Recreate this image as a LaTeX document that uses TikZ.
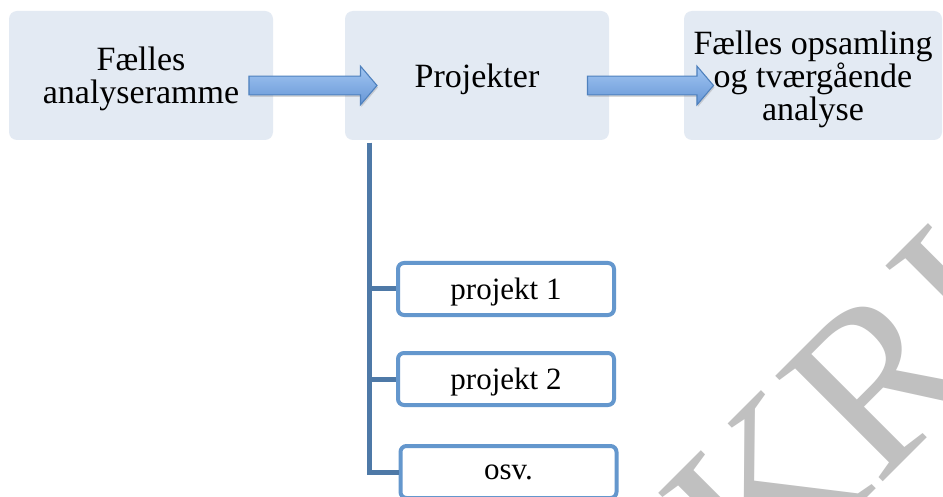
\documentclass[tikz,border=0pt]{standalone}
\usepackage{fontspec}
\setmainfont{Liberation Serif}
\usetikzlibrary{shapes.arrows,shadows,calc}
\definecolor{boxfill}{RGB}{227,234,243}
\definecolor{trunkblue}{RGB}{78,121,167}
\definecolor{childblue}{RGB}{100,151,205}
\definecolor{arrowline}{RGB}{79,129,189}
\definecolor{arrowtop}{RGB}{162,198,242}
\definecolor{arrowbot}{RGB}{102,150,214}
\definecolor{wmgray}{RGB}{192,192,192}
\tikzset{
  topbox/.style={rectangle, rounded corners=8pt, fill=boxfill, minimum width=264pt,
    minimum height=129pt, align=center, inner sep=0pt, text depth=0pt,
    font=\fontsize{34}{33}\selectfont},
  childbox/.style={rectangle, draw=childblue, line width=4pt, rounded corners=6pt,
    fill=white, minimum width=216pt, minimum height=52pt, inner sep=0pt,
    text depth=0pt, font=\fontsize{31}{33}\selectfont},
  blockarrow/.style={single arrow, draw=arrowline, line width=1.1pt,
    top color=arrowtop, bottom color=arrowbot,
    inner xsep=0pt, inner ysep=8.8pt, single arrow head extend=10pt,
    single arrow tip angle=99, minimum width=37.6pt,
    drop shadow={shadow xshift=1pt, shadow yshift=-2pt, opacity=0.3}},
  trunk/.style={draw=trunkblue, line width=5pt},
  watermark/.style={text=wmgray, inner sep=0pt, font=\fontsize{230}{240}\selectfont}
}
\begin{document}
\begin{tikzpicture}[x=1pt,y=-1pt]
\useasboundingbox (0,0) rectangle (943,497);
\fill[white] (0,0) rectangle (943,497);
\begin{scope}
  \clip (0,0) rectangle (943,497);
  \node[watermark, rotate=45, anchor=base west] (wm) at (760,605) {KRI};
\end{scope}
% top boxes
\node[topbox] (a) at (141,75.5) {Fælles\\analyseramme};
\node[topbox] (b) at (477,75.5) {Projekter};
\node[topbox, minimum width=258pt] (c) at (813,75.5) {Fælles opsamling\\og tværgående\\analyse};
% block arrows
\path (a.east) -- (b.west) node[midway, blockarrow, minimum height=128pt, yshift=-10pt] (ab) {};
\path (b.east) -- (c.west) node[midway, blockarrow, minimum height=126pt, yshift=-10pt] (bc) {};
% child boxes
\node[childbox] (p1) at (506,289) {projekt 1};
\node[childbox] (p2) at (506,379) {projekt 2};
\node[childbox] (p3) at (508.5,472) {osv.};
% trunk connectors
\coordinate (t) at (369,143);
\draw[trunk] (t) |- (p1.west);
\draw[trunk] (t) |- (p2.west);
\draw[trunk] (t) |- (p3.west);
\end{tikzpicture}
\end{document}
